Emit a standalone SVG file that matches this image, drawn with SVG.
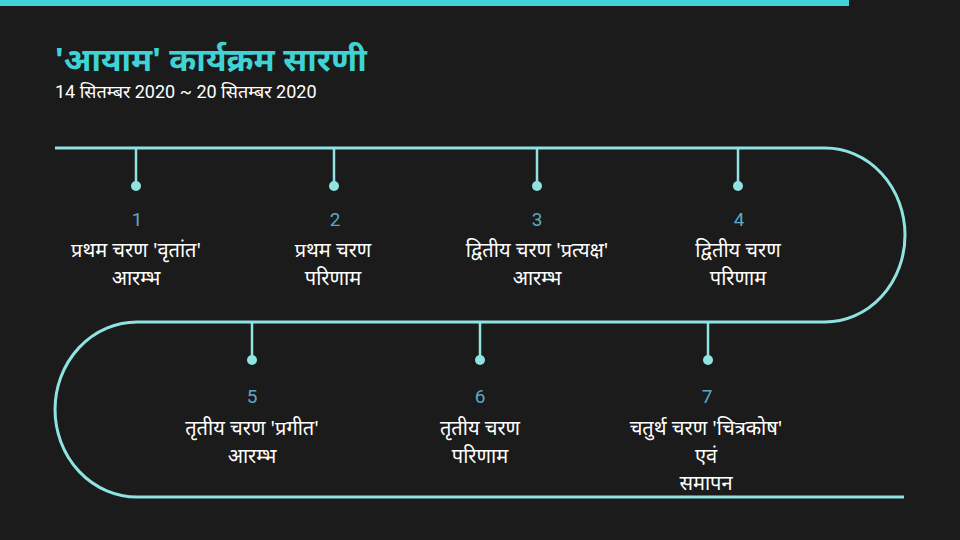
<svg xmlns="http://www.w3.org/2000/svg" width="960" height="540" viewBox="0 0 960 540">
<defs>
<style>
.bg{fill:#1b1b1b}
.conn{fill:none;stroke:#8fe3e1;stroke-width:3}
.stem{stroke:#8fe3e1;stroke-width:2.5}
.dot{fill:#8fe3e1}
.num{font-family:"Roboto","Noto Sans",sans-serif;font-size:19px;fill:#5aa9c9;text-anchor:middle}
.lbl{font-family:"Noto Sans","Noto Sans Devanagari","Lohit Devanagari",sans-serif;font-size:20px;fill:#ffffff;text-anchor:middle}
.title{font-family:"Noto Sans","Noto Sans Devanagari",sans-serif;font-size:32.5px;font-weight:bold;fill:#3fd3d6}
.sub{font-family:"Roboto","Noto Sans","Noto Sans Devanagari",sans-serif;font-size:18px;fill:#ffffff}
</style>
</defs>
<rect class="bg" x="0" y="0" width="960" height="540"/>
<rect x="0" y="0" width="849" height="6" fill="#3fd3d6"/>
<g id="header">
<text class="title" x="55" y="71">'आयाम' कार्यक्रम सारणी</text>
<text class="sub" x="55" y="98">14 सितम्बर 2020 ~ 20 सितम्बर 2020</text>
</g>
<g id="connectors">
<path class="conn" d="M55,148 H825 A80,87 0 0 1 825,322 H137 A82,87.5 0 0 0 137,497 H904"/>
<line class="stem" x1="136" y1="148" x2="136" y2="186"/>
<line class="stem" x1="334" y1="148" x2="334" y2="186"/>
<line class="stem" x1="537" y1="148" x2="537" y2="186"/>
<line class="stem" x1="738" y1="148" x2="738" y2="186"/>
<line class="stem" x1="252" y1="322" x2="252" y2="360"/>
<line class="stem" x1="480" y1="322" x2="480" y2="360"/>
<line class="stem" x1="708" y1="322" x2="708" y2="360"/>
</g>
<g id="node1">
<circle class="dot" cx="136" cy="186" r="5"/>
<text class="num" x="137" y="226">1</text>
<text class="lbl" x="136" y="257">प्रथम चरण 'वृतांत'</text>
<text class="lbl" x="136" y="285">आरम्भ</text>
</g>
<g id="node2">
<circle class="dot" cx="334" cy="186" r="5"/>
<text class="num" x="335" y="226">2</text>
<text class="lbl" x="333" y="257">प्रथम चरण</text>
<text class="lbl" x="333" y="285">परिणाम</text>
</g>
<g id="node3">
<circle class="dot" cx="537" cy="186" r="5"/>
<text class="num" x="537" y="226">3</text>
<text class="lbl" x="537" y="257">द्वितीय चरण 'प्रत्यक्ष'</text>
<text class="lbl" x="537" y="285">आरम्भ</text>
</g>
<g id="node4">
<circle class="dot" cx="738" cy="186" r="5"/>
<text class="num" x="739" y="226">4</text>
<text class="lbl" x="738" y="257">द्वितीय चरण</text>
<text class="lbl" x="738" y="285">परिणाम</text>
</g>
<g id="node5">
<circle class="dot" cx="252" cy="360" r="5"/>
<text class="num" x="252" y="403">5</text>
<text class="lbl" x="252" y="435">तृतीय चरण 'प्रगीत'</text>
<text class="lbl" x="252" y="463">आरम्भ</text>
</g>
<g id="node6">
<circle class="dot" cx="480" cy="360" r="5"/>
<text class="num" x="480" y="403">6</text>
<text class="lbl" x="480" y="435">तृतीय चरण</text>
<text class="lbl" x="480" y="463">परिणाम</text>
</g>
<g id="node7">
<circle class="dot" cx="708" cy="360" r="5"/>
<text class="num" x="707" y="403">7</text>
<text class="lbl" x="706" y="435">चतुर्थ चरण 'चित्रकोष'</text>
<text class="lbl" x="706" y="463">एवं</text>
<text class="lbl" x="706" y="490">समापन</text>
</g>
</svg>
